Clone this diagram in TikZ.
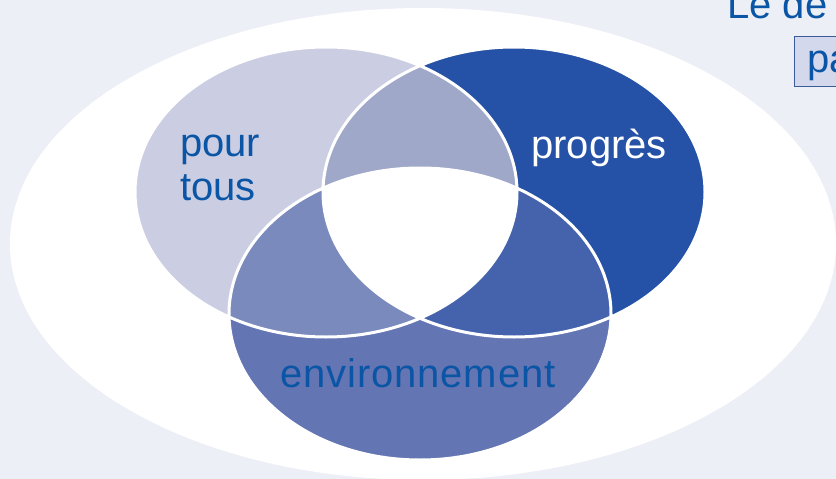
\documentclass[tikz,border=0pt]{standalone}
\usepackage{fontspec}
\setmainfont{Liberation Sans}
\definecolor{fond}{HTML}{EDEFF7}
\definecolor{bleu}{HTML}{0A55A5}
\definecolor{ctous}{HTML}{CBCEE2}
\definecolor{cprog}{HTML}{2552A6}
\definecolor{cenv}{HTML}{6475B3}
\definecolor{ctp}{HTML}{A0A8CA}
\definecolor{cte}{HTML}{7A8ABD}
\definecolor{cpe}{HTML}{4563AC}
\definecolor{cadre}{HTML}{D4D8EC}
\definecolor{trait}{HTML}{3A5A99}

\begin{document}
\begin{tikzpicture}[x=1pt, y=-1pt,
  lbl/.style={inner sep=0, anchor=base west, text=bleu, font=\fontsize{40}{44}\selectfont}]
  \useasboundingbox (0,0) rectangle (836,479);
  \clip (0,0) rectangle (836,479);
  \fill[fond] (0,0) rectangle (836,479);
  \fill[white] (423,244) ellipse [x radius=413, y radius=236];

  \coordinate (T) at (326,192);
  \coordinate (P) at (514,192);
  \coordinate (E) at (420,314);

  \fill[ctous] (T) ellipse [x radius=191, y radius=145];
  \fill[cprog] (P) ellipse [x radius=191, y radius=145];
  \fill[cenv] (E) ellipse [x radius=191, y radius=146];
  \begin{scope}
    \clip (T) ellipse [x radius=191, y radius=145];
    \fill[ctp] (P) ellipse [x radius=191, y radius=145];
    \fill[cte] (E) ellipse [x radius=191, y radius=146];
  \end{scope}
  \begin{scope}
    \clip (P) ellipse [x radius=191, y radius=145];
    \fill[cpe] (E) ellipse [x radius=191, y radius=146];
    \clip (T) ellipse [x radius=191, y radius=145];
    \fill[white] (E) ellipse [x radius=191, y radius=146];
  \end{scope}
  \draw[white, line width=3pt] (T) ellipse [x radius=191, y radius=145]
    (P) ellipse [x radius=191, y radius=145]
    (E) ellipse [x radius=191, y radius=146];

  \node[lbl] (pour) at (180,156) {pour};
  \node[lbl] (tous) at (180,200) {tous};
  \node[lbl, text=white] (progres) at (531,158) {progrès};
  \node[lbl, anchor=base] (environnement) at (418,387)
    {\addfontfeatures{LetterSpace=2.2}environnement};

  \node[lbl] (titre) at (727,18) {Le dé};
  \node[lbl, draw=trait, fill=cadre, line width=1pt, inner xsep=13pt,
    text height=36pt, text depth=14pt] (cadre) at (794,72) {pa};
\end{tikzpicture}
\end{document}
